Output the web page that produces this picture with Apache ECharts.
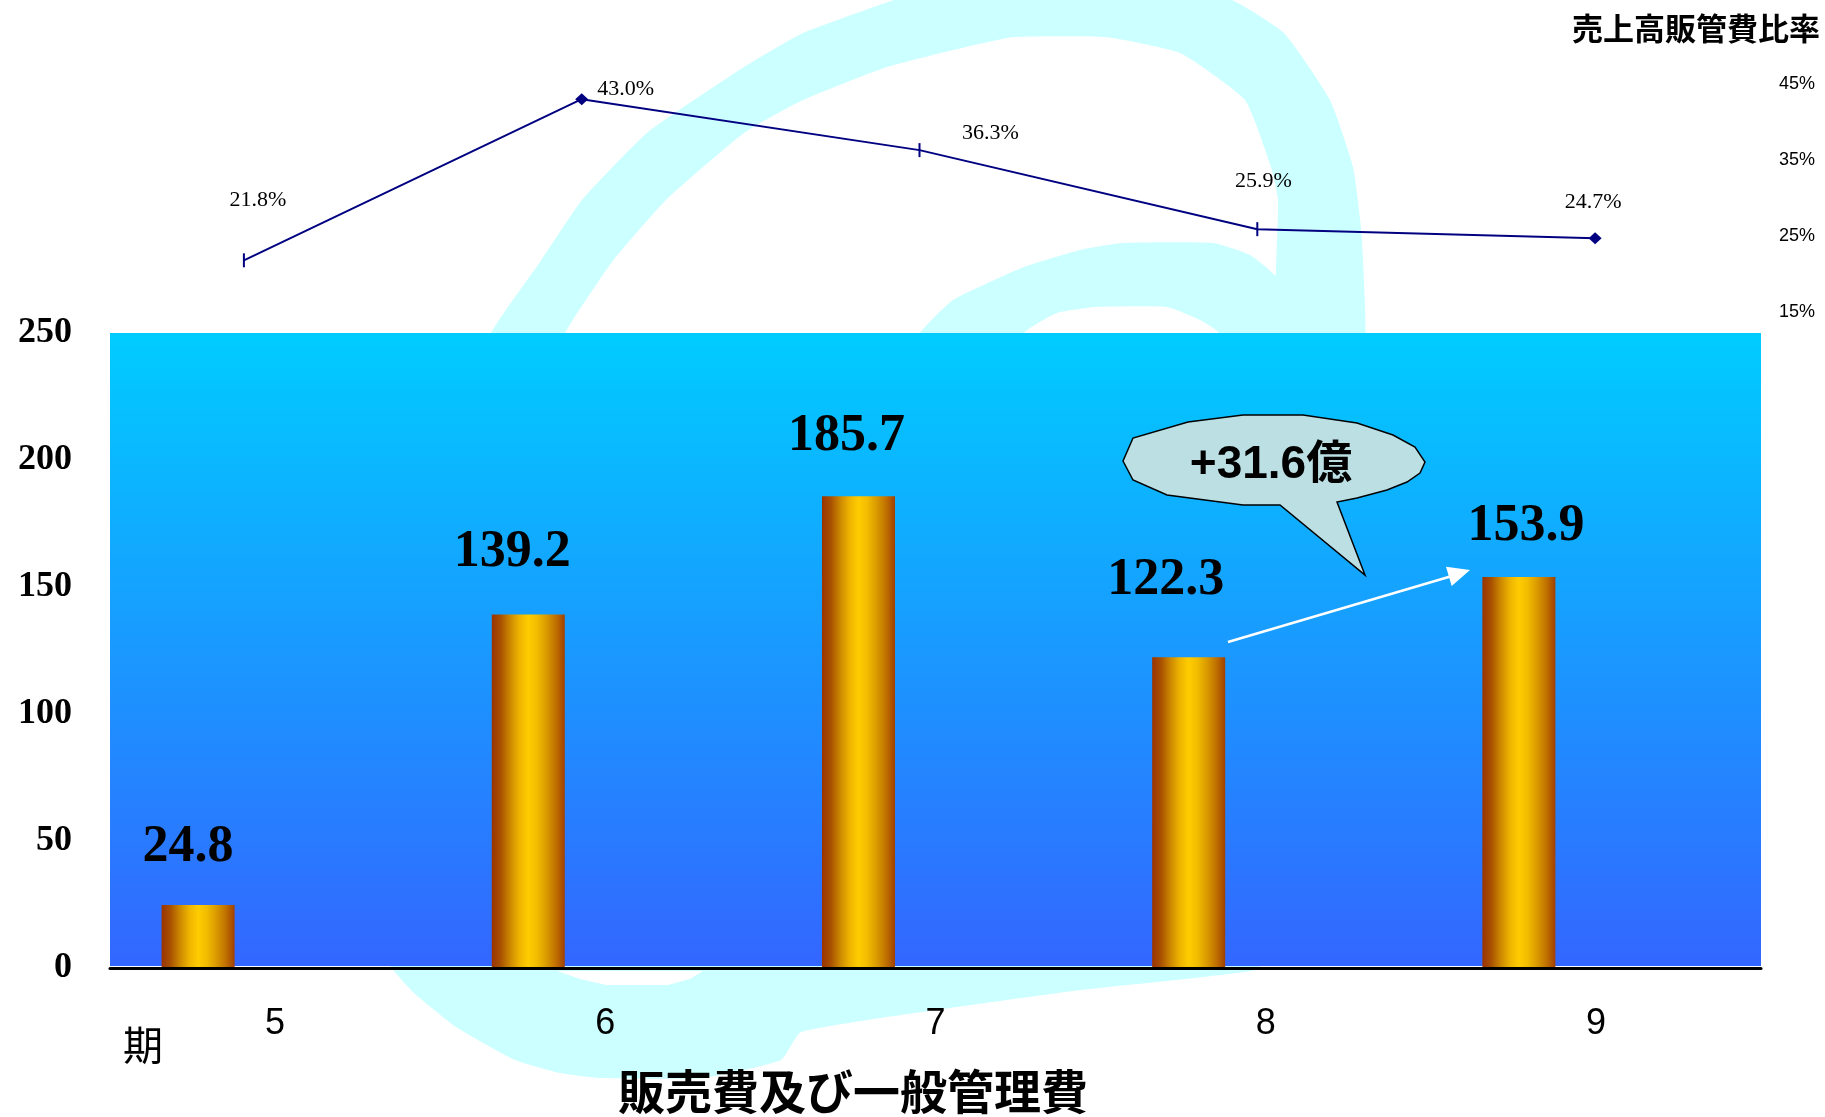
<!DOCTYPE html>
<html>
<head>
<meta charset="utf-8">
<script src="https://cdn.jsdelivr.net/npm/echarts@6/dist/echarts.min.js"></script>
<style>
  html, body { margin: 0; padding: 0; background: #fff; }
  #main { width: 1825px; height: 1117px; }
</style>
</head>
<body>
<div id="main"></div>
<script>
// 期
const periods = ['5', '6', '7', '8', '9'];
// 販売費及び一般管理費 (億円)
const sgaExpense = [24.8, 139.2, 185.7, 122.3, 153.9];
// 売上高販管費比率 (%)
const sgaRatio = [21.8, 43.0, 36.3, 25.9, 24.7];
const expenseTicks = [0, 50, 100, 150, 200, 250];
const ratioTicks = [15, 25, 35, 45];

// label placement / markers (style only)
const expenseLabelShift = [[-10, -31], [-16, -36], [-12, -34], [-23, -51], [7, -25]];
const ratioLabelShift = [[14, -60], [44, -10], [71, -17], [6, -48], [-2, -36]];
const ratioMarker = ['tick', 'diamond', 'tick', 'tick', 'diamond'];

const plot = { left: 110, top: 333, width: 1651, height: 635 };
const WM = '#CCFFFF';

const chart = echarts.init(document.getElementById('main'));

const barColor = new echarts.graphic.LinearGradient(0, 0, 1, 0, [
  { offset: 0, color: '#993300' },
  { offset: 0.12, color: '#A85000' },
  { offset: 0.25, color: '#CC8800' },
  { offset: 0.38, color: '#EEB400' },
  { offset: 0.5, color: '#FFCC00' },
  { offset: 0.62, color: '#F2BC00' },
  { offset: 0.75, color: '#D99A00' },
  { offset: 0.88, color: '#BF7000' },
  { offset: 1, color: '#A04000' }
]);

const plotFill = new echarts.graphic.LinearGradient(0, 0, 0, 1, [
  { offset: 0, color: '#00CCFF' },
  { offset: 1, color: '#3366FF' }
]);

// background logo outlines
const logoRing = [
  [480, 380], [491, 333], [540, 262], [582, 200], [647, 133], [744, 67], [803, 33], [894, 0], [960, -22],
  [1060, -30], [1160, -22], [1232, 0], [1284, 33], [1330, 100], [1353, 167], [1362, 240], [1362, 380],
  [1278, 380], [1278, 200], [1271, 167], [1245, 100], [1180, 53], [1105, 37], [1014, 37], [966, 47],
  [887, 67], [803, 100], [744, 133], [666, 200], [612, 262], [565, 333], [550, 380]
];
const logoInner = [
  [900, 380], [920, 333], [953, 300], [1024, 267], [1080, 250], [1122, 243], [1213, 243], [1250, 255],
  [1278, 280], [1278, 380], [1225, 380], [1219, 333], [1200, 320], [1167, 307], [1096, 307], [1057, 313],
  [1024, 333], [1010, 380]
];
const logoBottom = [
  [380, 950], [394, 971], [414, 993], [456, 1027], [515, 1060], [560, 1073], [600, 1078], [703, 1078],
  [781, 1060], [801, 1032], [950, 1008], [1081, 990], [1256, 970], [1270, 950]
];
const logoHole = [[557, 971], [580, 979], [606, 985], [668, 985], [690, 979], [703, 971]];

chart.setOption({
  backgroundColor: '#fff',
  animation: false,
  grid: [
    { left: plot.left, top: plot.top, width: plot.width, height: plot.height },
    { left: 75, top: 84, width: 1689, height: 228 }
  ],
  xAxis: [
    {
      type: 'category', gridIndex: 0, data: periods, z: 5,
      axisLine: { lineStyle: { color: '#000', width: 3 } },
      axisTick: { show: false },
      axisLabel: { fontFamily: 'Liberation Sans Narrow, Liberation Sans', fontSize: 36, color: '#000', margin: 38 }
    },
    { type: 'category', gridIndex: 1, data: periods, show: false }
  ],
  yAxis: [
    {
      type: 'value', gridIndex: 0,
      min: expenseTicks[0], max: expenseTicks[expenseTicks.length - 1],
      interval: expenseTicks[1] - expenseTicks[0],
      splitLine: { show: false }, axisLine: { show: false }, axisTick: { show: false },
      axisLabel: { fontFamily: 'Liberation Serif', fontWeight: 'bold', fontSize: 36, color: '#000', margin: 38 }
    },
    {
      type: 'value', gridIndex: 1, position: 'right',
      min: ratioTicks[0], max: ratioTicks[ratioTicks.length - 1],
      interval: ratioTicks[1] - ratioTicks[0],
      splitLine: { show: false }, axisLine: { show: false }, axisTick: { show: false },
      axisLabel: { formatter: '{value}%', fontFamily: 'Liberation Sans', fontSize: 18, color: '#000', margin: 15 }
    }
  ],
  graphic: { elements: [
    // watermark logo
    { type: 'polygon', z: 0, shape: { smooth: 0.15, points: logoRing }, style: { fill: WM } },
    { type: 'polygon', z: 0, shape: { smooth: 0.15, points: logoInner }, style: { fill: WM } },
    { type: 'polygon', z: 0, shape: { smooth: 0.15, points: logoBottom }, style: { fill: WM } },
    { type: 'polygon', z: 0, shape: { points: logoHole }, style: { fill: '#fff' } },
    // plot background
    { type: 'rect', z: 1, shape: { x: plot.left, y: plot.top, width: plot.width, height: plot.height - 2 },
      style: { fill: plotFill } },
    // texts
    { type: 'text', z: 10, right: 5, top: 13,
      style: { text: '売上高販管費比率', fontFamily: 'Noto Sans CJK JP', fontWeight: 'bold', fontSize: 31, fill: '#000' } },
    { type: 'text', z: 10, x: 143, y: 1045,
      style: { text: '期', fontFamily: 'Noto Sans CJK JP', fontSize: 40, fill: '#000', align: 'center', verticalAlign: 'middle' } },
    { type: 'text', z: 10, x: 853, y: 1091,
      style: { text: '販売費及び一般管理費', fontFamily: 'Noto Sans CJK JP', fontWeight: 'bold', fontSize: 47, fill: '#000', align: 'center', verticalAlign: 'middle' } },
    // callout
    { type: 'polygon', z: 10, shape: { points: [
        [1123, 461], [1133, 438], [1188, 422], [1243, 415], [1303, 415], [1357, 423], [1393, 435], [1415, 447],
        [1425, 462], [1420, 473], [1407, 482], [1387, 490], [1357, 498], [1337, 502], [1365, 575],
        [1280, 505], [1243, 505], [1167, 495], [1133, 480]] },
      style: { fill: '#BBDFE3', stroke: '#000', lineWidth: 1.5 } },
    { type: 'text', z: 11, x: 1271, y: 465,
      style: { text: '+31.6億', fontFamily: 'Liberation Sans, Noto Sans CJK JP', fontWeight: 'bold', fontSize: 46, fill: '#000', align: 'center', verticalAlign: 'middle' } },
    // arrow
    { type: 'line', z: 10, shape: { x1: 1228, y1: 642, x2: 1452, y2: 576 }, style: { stroke: '#fff', lineWidth: 2.5 } },
    { type: 'polygon', z: 10, shape: { points: [[1470, 570], [1446, 566.7], [1451.7, 585.9]] }, style: { fill: '#fff' } }
  ] },
  series: [
    {
      name: '販売費及び一般管理費', type: 'bar', xAxisIndex: 0, yAxisIndex: 0,
      barWidth: 73, barGap: '111%',
      itemStyle: { color: barColor },
      label: {
        show: true, position: 'top', distance: 0,
        fontFamily: 'Liberation Serif', fontWeight: 'bold', fontSize: 52, color: '#000',
        formatter: p => p.value.toFixed(1)
      },
      data: sgaExpense.map((v, i) => ({ value: v, label: { offset: expenseLabelShift[i] } }))
    },
    { name: 'spacer', type: 'bar', xAxisIndex: 0, yAxisIndex: 0, barWidth: 73, data: [] },
    {
      name: '売上高販管費比率', type: 'line', xAxisIndex: 1, yAxisIndex: 1,
      lineStyle: { color: '#000080', width: 2 },
      itemStyle: { color: '#000080' },
      label: {
        show: true, position: 'inside',
        fontFamily: 'Liberation Serif', fontSize: 22, color: '#000',
        formatter: p => p.value.toFixed(1) + '%'
      },
      data: sgaRatio.map((v, i) => ({
        value: v,
        symbol: ratioMarker[i] === 'tick' ? 'rect' : 'diamond',
        symbolSize: ratioMarker[i] === 'tick' ? [2, 14] : [13, 12],
        label: { offset: ratioLabelShift[i] }
      }))
    }
  ]
});
</script>
</body>
</html>
